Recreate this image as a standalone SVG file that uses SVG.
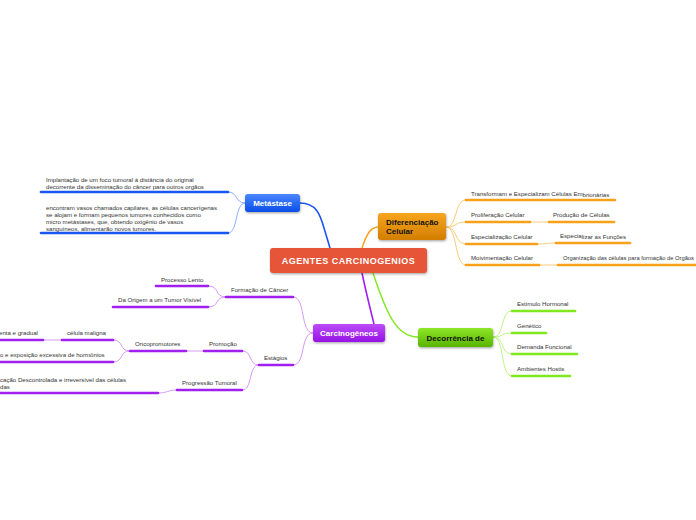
<svg xmlns="http://www.w3.org/2000/svg" width="696" height="520" viewBox="0 0 696 520">
<defs>
<linearGradient id="gBlue" x1="0" y1="0" x2="0" y2="1"><stop offset="0" stop-color="#4a86ff"/><stop offset="1" stop-color="#0a4ee6"/></linearGradient>
<linearGradient id="gOrange" x1="0" y1="0" x2="0" y2="1"><stop offset="0" stop-color="#f7a51f"/><stop offset="1" stop-color="#d27e00"/></linearGradient>
<linearGradient id="gGreen" x1="0" y1="0" x2="0" y2="1"><stop offset="0" stop-color="#8ee628"/><stop offset="1" stop-color="#58b400"/></linearGradient>
<linearGradient id="gPurple" x1="0" y1="0" x2="0" y2="1"><stop offset="0" stop-color="#bd4cf7"/><stop offset="1" stop-color="#9612e6"/></linearGradient>
<filter id="sh" x="-20%" y="-30%" width="140%" height="170%"><feDropShadow dx="0.5" dy="1.2" stdDeviation="1" flood-color="#000" flood-opacity="0.35"/></filter>
</defs>
<style>
text{font-family:"Liberation Sans",Arial,sans-serif}
.t{font-size:6.1px;fill:#333}
.nb{font-size:8px;font-weight:bold}
.w{fill:#fff}
.k{fill:#111}
.ub{stroke:#1a56f0;stroke-width:2.6;fill:none;stroke-linecap:round}
.uo{stroke:#f7a01a;stroke-width:2.6;fill:none;stroke-linecap:round}
.ug{stroke:#80e81e;stroke-width:2.6;fill:none;stroke-linecap:round}
.up{stroke:#a020f0;stroke-width:2.6;fill:none;stroke-linecap:round}
.cb{stroke:#7fa4ff;stroke-width:0.9;fill:none}
.co{stroke:#fbc46a;stroke-width:0.9;fill:none}
.cg{stroke:#b8f27a;stroke-width:0.9;fill:none}
.cp{stroke:#cf8cf8;stroke-width:0.9;fill:none}
</style>

<g id="connectors">
<path d="M300,203 C316,203 320,214 324,228 L330,248" stroke="#1a56f0" stroke-width="1.6" fill="none"/>
<path d="M362,248 C366,236 370,227 378,227" stroke="#f7a01a" stroke-width="1.4" fill="none"/>
<path d="M362,273 C366,292 370,308 374,324" stroke="#a020f0" stroke-width="1.6" fill="none"/>
<path d="M373,273 C386,312 396,337 418,337" stroke="#80e81e" stroke-width="1.4" fill="none"/>
<path class="cb" d="M245,203 C235,203 238,192 228,192"/>
<path class="cb" d="M245,203 C235,203 238,233 228,233"/>
<path class="co" d="M446,227 C458,227 454,200 466,200"/>
<path class="co" d="M446,227 C458,227 454,222 466,222"/>
<path class="co" d="M446,227 C458,227 454,244 466,244"/>
<path class="co" d="M446,227 C458,227 454,265 466,265"/>
<path class="co" d="M530,222 C540,222 540,222 549,222"/>
<path class="co" d="M537,244 C547,244 547,243 556,243"/>
<path class="co" d="M539,265 C549,265 549,265 558,265"/>
<path class="cg" d="M493,337 C505,337 500,311 512,311"/>
<path class="cg" d="M493,337 C505,337 500,333 512,333"/>
<path class="cg" d="M493,337 C505,337 500,354 512,354"/>
<path class="cg" d="M493,337 C505,337 500,376 512,376"/>
<path class="cp" d="M313,333 C300,333 306,297 293,297"/>
<path class="cp" d="M313,333 C300,333 306,365 293,365"/>
<path class="cp" d="M226,297 C214,297 220,286 208,286"/>
<path class="cp" d="M226,297 C214,297 220,307 208,307"/>
<path class="cp" d="M259,365 C248,365 253,351 242,351"/>
<path class="cp" d="M259,365 C248,365 253,390 242,390"/>
<path class="cp" d="M204,351 C195,351 195,351 186,351"/>
<path class="cp" d="M130,351 C119,351 124,340 113,340"/>
<path class="cp" d="M130,351 C119,351 124,362 113,362"/>
<path class="cp" d="M62,340 C52,340 52,340 43,340"/>
<path class="cp" d="M177,390 C167,390 168,393 158,393"/>
</g>

<g id="central">
<rect x="270" y="248" width="157" height="25" rx="3" fill="#e65439" filter="url(#sh)"/>
<text x="348.5" y="264" text-anchor="middle" font-size="9" font-weight="bold" fill="#fff" letter-spacing="0.5">AGENTES CARCINOGENIOS</text>
</g>

<g id="metastase">
<rect x="245" y="194" width="55" height="18" rx="3" fill="url(#gBlue)" filter="url(#sh)"/>
<text class="nb w" x="272.5" y="206" text-anchor="middle">Metástase</text>
</g>
<g id="met-1">
<text class="t" x="46" y="182">Implantação de um foco tumoral à distância do original</text>
<text class="t" x="46" y="189">decorrente da disseminação do câncer para outros orgãos</text>
<line class="ub" x1="41" y1="192" x2="228" y2="192"/>
</g>
<g id="met-2">
<text class="t" x="46" y="210">encontram vasos chamados capilares, as células cancerígenas</text>
<text class="t" x="46" y="217">se alojam e formam pequenos tumores conhecidos como</text>
<text class="t" x="46" y="224">micro metástases, que, obtendo oxigênio de vasos</text>
<text class="t" x="46" y="231">sanguíneos, alimentarão novos tumores.</text>
<line class="ub" x1="41" y1="233" x2="228" y2="233"/>
</g>

<g id="diferenciacao">
<rect x="378" y="213" width="68" height="27" rx="3" fill="url(#gOrange)" filter="url(#sh)"/>
<text class="nb k" x="386" y="225">Diferenciação</text>
<text class="nb k" x="386" y="234">Celular</text>
</g>
<g id="dif-1">
<text class="t" x="471" y="196">Transformam e Especializam Células Em<tspan dy="1.3">brionárias</tspan></text>
<line class="uo" x1="466" y1="200" x2="615" y2="200"/>
</g>
<g id="dif-2">
<text class="t" x="471" y="217">Proliferação Celular</text>
<line class="uo" x1="466" y1="222" x2="530" y2="222"/>
</g>
<g id="dif-2a">
<text class="t" x="553" y="217">Produção de Células</text>
<line class="uo" x1="549" y1="222" x2="614" y2="222"/>
</g>
<g id="dif-3">
<text class="t" x="471" y="239">Especialização Celular</text>
<line class="uo" x1="466" y1="244" x2="537" y2="244"/>
</g>
<g id="dif-3a">
<text class="t" x="560" y="237.5">Especia<tspan dy="1.3">lizar as Funções</tspan></text>
<line class="uo" x1="556" y1="243" x2="630" y2="243"/>
</g>
<g id="dif-4">
<text class="t" x="471" y="260">Moivimentação Celular</text>
<line class="uo" x1="466" y1="265" x2="539" y2="265"/>
</g>
<g id="dif-4a">
<text x="563" y="260" font-size="5.8" fill="#333" textLength="131" lengthAdjust="spacingAndGlyphs">Organização das células para formação de Orgãos</text>
<line class="uo" x1="558" y1="265" x2="700" y2="265"/>
</g>

<g id="decorrencia">
<rect x="418" y="328" width="75" height="19" rx="3" fill="url(#gGreen)" filter="url(#sh)"/>
<text class="nb k" x="455.5" y="340.5" text-anchor="middle">Decorrência de</text>
</g>
<g id="dec-1"><text class="t" x="517" y="306">Estimulo Hormonal</text><line class="ug" x1="512" y1="311" x2="575" y2="311"/></g>
<g id="dec-2"><text class="t" x="517" y="328">Genético</text><line class="ug" x1="512" y1="333" x2="546" y2="333"/></g>
<g id="dec-3"><text class="t" x="517" y="349">Demanda Funcional</text><line class="ug" x1="512" y1="354" x2="577" y2="354"/></g>
<g id="dec-4"><text class="t" x="517" y="371">Ambientes Hostis</text><line class="ug" x1="512" y1="376" x2="570" y2="376"/></g>

<g id="carcinogeneos">
<rect x="313" y="324" width="72" height="18" rx="3" fill="url(#gPurple)" filter="url(#sh)"/>
<text class="nb w" x="349" y="336" text-anchor="middle">Carcinogêneos</text>
</g>
<g id="car-formacao"><text class="t" x="231" y="292">Formação de Câncer</text><line class="up" x1="226" y1="297" x2="293" y2="297"/></g>
<g id="car-lento"><text class="t" x="161" y="282">Processo Lento</text><line class="up" x1="156" y1="286" x2="208" y2="286"/></g>
<g id="car-origem"><text class="t" x="118" y="302">Da Origem a um Tumor Visível</text><line class="up" x1="113" y1="307" x2="208" y2="307"/></g>
<g id="car-estagios"><text class="t" x="264" y="360">Estágios</text><line class="up" x1="259" y1="365" x2="293" y2="365"/></g>
<g id="car-promocao"><text class="t" x="209" y="346">Promoção</text><line class="up" x1="204" y1="351" x2="242" y2="351"/></g>
<g id="car-onco"><text class="t" x="135" y="346">Oncopromotores</text><line class="up" x1="130" y1="351" x2="186" y2="351"/></g>
<g id="car-maligna"><text class="t" x="67" y="335">célula maligna</text><line class="up" x1="62" y1="340" x2="113" y2="340"/></g>
<g id="car-gradual"><text class="t" x="-1" y="335">enta e gradual</text><line class="up" x1="-2" y1="340" x2="43" y2="340"/></g>
<g id="car-hormonios"><text class="t" x="0" y="357">o e exposição excessiva de hormônios</text><line class="up" x1="-2" y1="362" x2="113" y2="362"/></g>
<g id="car-progressao"><text class="t" x="182" y="385">Progressão Tumoral</text><line class="up" x1="177" y1="390" x2="242" y2="390"/></g>
<g id="car-multiplicacao"><text class="t" x="0" y="382">cação Descontrolada e irreversível das células</text><text class="t" x="0" y="389">das</text><line class="up" x1="-2" y1="393" x2="158" y2="393"/></g>
</svg>
